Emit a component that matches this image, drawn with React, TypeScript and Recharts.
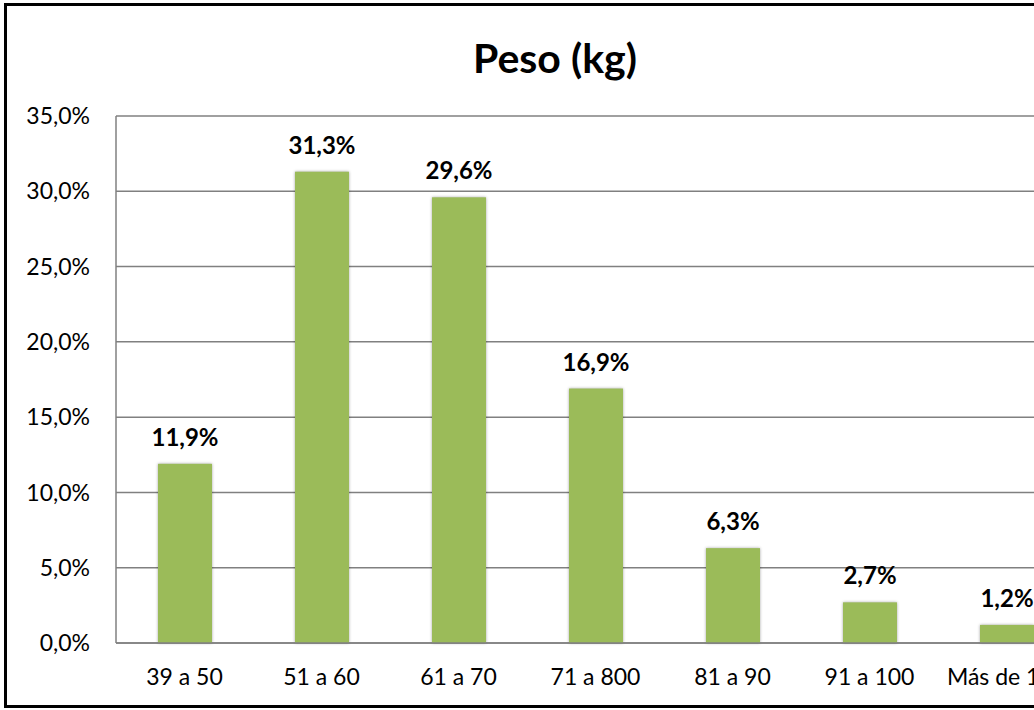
import { BarChart, Bar, XAxis, YAxis, CartesianGrid, LabelList } from "recharts";

const categories = ["39 a 50", "51 a 60", "61 a 70", "71 a 800", "81 a 90", "91 a 100", "Más de 100"];
const shares = [0.119, 0.313, 0.296, 0.169, 0.063, 0.027, 0.012];
const yTicks = [0, 0.05, 0.1, 0.15, 0.2, 0.25, 0.3, 0.35];

const data = categories.map((name, i) => ({ name, value: shares[i] }));

const font = "Lato, Calibri, sans-serif";
const pct = (v: number) => (v * 100).toFixed(1).replace(".", ",") + "%";

const ShadowBar = (props: any) => {
  const { x, y, width, height } = props;
  return (
    <rect
      x={x}
      y={y}
      width={width}
      height={height}
      fill="#9BBB59"
      style={{ filter: "drop-shadow(0px 0px 1.5px rgba(0,0,0,0.35))" }}
    />
  );
};

export default function App() {
  return (
    <div
      style={{
        position: "absolute",
        left: 4,
        top: 3,
        width: 1102,
        height: 705,
        border: "3px solid #000",
        boxSizing: "border-box",
        background: "#fff",
        fontFamily: font,
      }}
    >
      <div
        style={{
          position: "absolute",
          top: 27,
          left: 0,
          width: "100%",
          textAlign: "center",
          fontSize: 41,
          fontWeight: 700,
          color: "#000",
        }}
      >
        Peso (kg)
      </div>
      <BarChart
        width={1096}
        height={699}
        data={data}
        margin={{ top: 110, right: 28, left: 0, bottom: 0 }}
      >
        <CartesianGrid vertical={false} stroke="#808080" strokeWidth={1.5} />
        <XAxis
          dataKey="name"
          height={62}
          tickLine={false}
          tickSize={0}
          tickMargin={26}
          axisLine={{ stroke: "#808080", strokeWidth: 1.5 }}
          tick={{ fill: "#000", fontSize: 23, fontFamily: font }}
          interval={0}
        />
        <YAxis
          width={109}
          domain={[0, 0.35]}
          ticks={yTicks}
          tickFormatter={pct}
          tickLine={false}
          tickSize={0}
          tickMargin={26}
          axisLine={{ stroke: "#808080", strokeWidth: 1.5 }}
          tick={{ fill: "#000", fontSize: 23, fontFamily: font }}
        />
        <Bar dataKey="value" barSize={54} shape={<ShadowBar />} isAnimationActive={false}>
          <LabelList
            dataKey="value"
            position="top"
            offset={18}
            formatter={(v: any) => pct(Number(v))}
            style={{ fill: "#000", fontSize: 24, fontWeight: 700, fontFamily: font }}
          />
        </Bar>
      </BarChart>
    </div>
  );
}
